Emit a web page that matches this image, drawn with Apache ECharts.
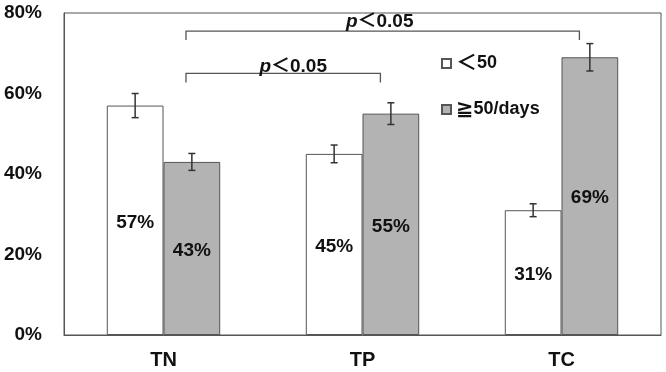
<!DOCTYPE html>
<html>
<head>
<meta charset="utf-8">
<script src="https://cdn.jsdelivr.net/npm/echarts@6/dist/echarts.min.js"></script>
<style>html,body{margin:0;padding:0;background:#fff;}#c{width:666px;height:372px;}</style>
</head>
<body>
<div id="c"></div>
<script>
const categories = ['TN', 'TP', 'TC'];
const seriesNames = ['＜50', '≧50/days'];
const lowValues = [57, 45, 31];
const highValues = [43, 55, 69];
const lowErr = [3.0, 2.2, 1.6];
const highErr = [2.1, 2.7, 3.4];
const yMin = 0, yMax = 80, yInterval = 20;
const bracketFrom = [0, 0];
const bracketTo = [2, 1];
const bracketLevel = [75.5, 65];
const bracketText = ['p＜0.05', 'p＜0.05'];

const FONT = "'Liberation Sans', Arial, 'Noto Sans CJK JP', sans-serif";
const SYM = "'DejaVu Sans', 'Noto Sans CJK JP', sans-serif";
const CAT_GAP = 0.43;

function errRender(side) {
  return function (params, api) {
    const i = api.value(0), v = api.value(1), e = api.value(2);
    const band = api.size([1, 0])[0];
    const bw = band * (1 - CAT_GAP) / 2;
    const x = api.coord([i, v])[0] + side * bw / 2;
    const yt = api.coord([i, v + e])[1];
    const yb = api.coord([i, v - e])[1];
    const cap = 3.5;
    const st = { stroke: '#333', lineWidth: 1.5 };
    return {
      type: 'group',
      children: [
        { type: 'line', shape: { x1: x, y1: yt, x2: x, y2: yb }, style: st },
        { type: 'line', shape: { x1: x - cap, y1: yt, x2: x + cap, y2: yt }, style: st },
        { type: 'line', shape: { x1: x - cap, y1: yb, x2: x + cap, y2: yb }, style: st }
      ]
    };
  };
}

const textDx = [-3, 10];
const textDy = [-3, 0];
function bracketRender(params, api) {
  const a = api.value(0), b = api.value(1), lv = api.value(2);
  const band = api.size([1, 0])[0];
  const x1 = api.coord([a, lv])[0] + 0.113 * band;
  const x2 = api.coord([b, lv])[0] + 0.09 * band;
  const y = api.coord([a, lv])[1];
  const st = { stroke: '#555', lineWidth: 1.3 };
  const idx = params.dataIndex;
  return {
    type: 'group',
    children: [
      { type: 'polyline', shape: { points: [[x1, y + 9], [x1, y], [x2, y], [x2, y + 9]] }, style: Object.assign({ fill: null }, st) },
      { type: 'text', z2: 10, style: {
          text: '{i|p}{n|' + bracketText[idx].slice(1) + '}',
          x: (x1 + x2) / 2 + textDx[idx], y: y + 3 + textDy[idx],
          align: 'center', verticalAlign: 'bottom',
          rich: {
            i: { fontStyle: 'italic', fontWeight: 'bold', fontSize: 19, fontFamily: FONT, fill: '#111' },
            n: { fontWeight: 'bold', fontSize: 19, fontFamily: FONT, fill: '#111' }
          }
      } }
    ]
  };
}

const chart = echarts.init(document.getElementById('c'), null, { renderer: 'canvas' });
const labelStyle = {
  show: true, position: 'inside', offset: [0, 2],
  formatter: '{c}%', fontSize: 19, fontWeight: 'bold', color: '#111', fontFamily: FONT
};
chart.setOption({
  animation: false,
  textStyle: { fontFamily: FONT },
  grid: { left: 64, right: 5, top: 13, bottom: 37, show: true, borderColor: '#555', borderWidth: 1 },
  legend: {
    orient: 'vertical', left: 436, top: 48,
    itemWidth: 9, itemHeight: 9, itemGap: 25, icon: 'rect',
    data: seriesNames,
    formatter: function (name) {
      return '{s|' + name.charAt(0) + '}{t|' + name.slice(1) + '}';
    },
    textStyle: {
      fontSize: 18, fontWeight: 'bold', color: '#111', fontFamily: FONT, lineHeight: 20,
      rich: {
        s: { fontSize: 21, fontFamily: SYM, color: '#111', lineHeight: 20 },
        t: { fontSize: 18, fontWeight: 'bold', fontFamily: FONT, color: '#111', lineHeight: 20 }
      }
    }
  },
  xAxis: {
    type: 'category', data: categories,
    axisLine: { lineStyle: { color: '#555' } },
    axisTick: { show: false },
    axisLabel: { fontSize: 20, fontWeight: 'bold', color: '#111', margin: 15, fontFamily: FONT }
  },
  yAxis: {
    type: 'value', min: yMin, max: yMax, interval: yInterval,
    axisLine: { show: true, lineStyle: { color: '#555' } },
    axisTick: { show: false },
    splitLine: { show: false },
    axisLabel: { formatter: '{value}%', fontSize: 19, fontWeight: 'bold', color: '#111', margin: 22, fontFamily: FONT }
  },
  series: [
    {
      name: seriesNames[0], type: 'bar', data: lowValues,
      barGap: '0%', barCategoryGap: (CAT_GAP * 100) + '%',
      itemStyle: { color: '#ffffff', borderColor: '#555', borderWidth: 1 },
      label: labelStyle
    },
    {
      name: seriesNames[1], type: 'bar', data: highValues,
      barGap: '0%', barCategoryGap: (CAT_GAP * 100) + '%',
      itemStyle: { color: '#b3b3b3', borderColor: '#555', borderWidth: 1 },
      label: labelStyle
    },
    {
      type: 'custom', renderItem: errRender(-1), z: 5,
      encode: { x: 0, y: 1 },
      data: lowValues.map((v, i) => [i, v, lowErr[i]])
    },
    {
      type: 'custom', renderItem: errRender(1), z: 5,
      encode: { x: 0, y: 1 },
      data: highValues.map((v, i) => [i, v, highErr[i]])
    },
    {
      type: 'custom', renderItem: bracketRender, z: 6,
      encode: { x: [0, 1], y: 2 },
      data: bracketLevel.map((lv, i) => [bracketFrom[i], bracketTo[i], lv])
    }
  ]
});
</script>
</body>
</html>
